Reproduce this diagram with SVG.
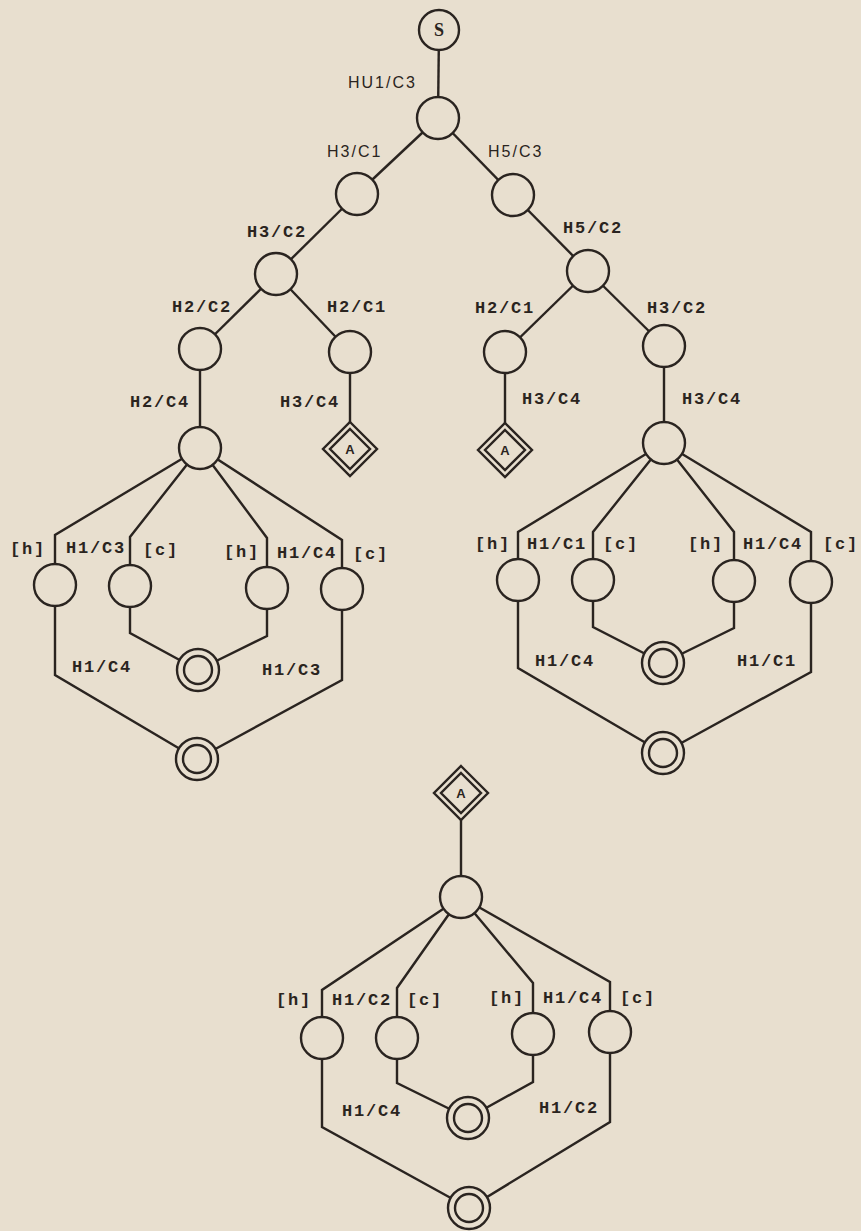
<svg xmlns="http://www.w3.org/2000/svg" width="861" height="1231" viewBox="0 0 861 1231">
<style>
.e{fill:none;stroke:#2a2420;stroke-width:2.4;stroke-linejoin:miter}
.n{fill:#e8dfcf;stroke:#2a2420;stroke-width:2.4}
.t{font-family:"Liberation Mono",monospace;font-weight:bold;font-size:17px;letter-spacing:1.8px;fill:#2a2420}
.tl{font-family:"Liberation Sans",sans-serif;font-weight:normal;font-size:16px;letter-spacing:2px;fill:#2a2420}
.c{font-family:"Liberation Serif",serif;font-weight:bold;font-size:18px;fill:#2a2420;text-anchor:middle}
.a{font-family:"Liberation Sans",sans-serif;font-weight:bold;font-size:13px;fill:#2a2420;text-anchor:middle}
</style>
<rect x="0" y="0" width="861" height="1231" fill="#e8dfcf"/>
<g id="connectors">
<path class="e" d="M439,30 L438,118"/>
<path class="e" d="M438,118 L357,194"/>
<path class="e" d="M438,118 L513,195"/>
<path class="e" d="M357,194 L276,274"/>
<path class="e" d="M513,195 L588,271"/>
<path class="e" d="M276,274 L200,349"/>
<path class="e" d="M276,274 L350,352"/>
<path class="e" d="M200,349 L200,448"/>
<path class="e" d="M350,352 L350,449"/>
<path class="e" d="M588,271 L505,352"/>
<path class="e" d="M588,271 L664,346"/>
<path class="e" d="M505,352 L505,450"/>
<path class="e" d="M664,346 L664,443"/>
<path class="e" d="M200,448 L55,535 L55,585"/>
<path class="e" d="M200,448 L130,537 L130,586"/>
<path class="e" d="M200,448 L267,538 L267,588"/>
<path class="e" d="M200,448 L342,540 L342,589"/>
<path class="e" d="M55,585 L55,675 L197,759"/>
<path class="e" d="M130,586 L130,633 L198,670"/>
<path class="e" d="M267,588 L267,636 L198,670"/>
<path class="e" d="M342,589 L342,680 L197,759"/>
<path class="e" d="M664,443 L518,532 L518,580"/>
<path class="e" d="M664,443 L593,532 L593,580"/>
<path class="e" d="M664,443 L734,532 L734,581"/>
<path class="e" d="M664,443 L811,532 L811,582"/>
<path class="e" d="M518,580 L518,668 L663,753"/>
<path class="e" d="M593,580 L593,627 L663,663"/>
<path class="e" d="M734,581 L734,628 L663,663"/>
<path class="e" d="M811,582 L811,672 L663,753"/>
<path class="e" d="M461,793 L461,897"/>
<path class="e" d="M461,897 L322,990 L322,1038"/>
<path class="e" d="M461,897 L397,988 L397,1038"/>
<path class="e" d="M461,897 L533,983 L533,1034"/>
<path class="e" d="M461,897 L610,982 L610,1032"/>
<path class="e" d="M322,1038 L322,1127 L469,1208"/>
<path class="e" d="M397,1038 L397,1083 L468,1118"/>
<path class="e" d="M533,1034 L533,1082 L468,1118"/>
<path class="e" d="M610,1032 L610,1122 L469,1208"/>
</g>
<g id="n_s"><circle class="n" cx="439" cy="30" r="20"/><text class="c" x="439" y="36">S</text></g>
<g id="n_root"><circle class="n" cx="438" cy="118" r="21"/></g>
<g id="n_l1"><circle class="n" cx="357" cy="194" r="21"/></g>
<g id="n_r1"><circle class="n" cx="513" cy="195" r="21"/></g>
<g id="n_l2"><circle class="n" cx="276" cy="274" r="21"/></g>
<g id="n_r2"><circle class="n" cx="588" cy="271" r="21"/></g>
<g id="n_l3a"><circle class="n" cx="200" cy="349" r="21"/></g>
<g id="n_l3b"><circle class="n" cx="350" cy="352" r="21"/></g>
<g id="n_r3a"><circle class="n" cx="505" cy="352" r="21"/></g>
<g id="n_r3b"><circle class="n" cx="664" cy="346" r="21"/></g>
<g id="n_la"><path class="n" d="M350,422 L377,449 L350,476 L323,449 Z"/><path class="n" d="M350,429 L370,449 L350,469 L330,449 Z"/><text class="a" x="350" y="454">A</text></g>
<g id="n_ra"><path class="n" d="M505,423 L532,450 L505,477 L478,450 Z"/><path class="n" d="M505,430 L525,450 L505,470 L485,450 Z"/><text class="a" x="505" y="455">A</text></g>
<g id="n_lf"><circle class="n" cx="200" cy="448" r="21"/></g>
<g id="n_lf1"><circle class="n" cx="55" cy="585" r="21"/></g>
<g id="n_lf2"><circle class="n" cx="130" cy="586" r="21"/></g>
<g id="n_lf3"><circle class="n" cx="267" cy="588" r="21"/></g>
<g id="n_lf4"><circle class="n" cx="342" cy="589" r="21"/></g>
<g id="n_lfi"><circle class="n" cx="198" cy="670" r="21"/><circle class="n" cx="198" cy="670" r="14"/></g>
<g id="n_lfo"><circle class="n" cx="197" cy="759" r="21"/><circle class="n" cx="197" cy="759" r="14"/></g>
<g id="n_rf"><circle class="n" cx="664" cy="443" r="21"/></g>
<g id="n_rf1"><circle class="n" cx="518" cy="580" r="21"/></g>
<g id="n_rf2"><circle class="n" cx="593" cy="580" r="21"/></g>
<g id="n_rf3"><circle class="n" cx="734" cy="581" r="21"/></g>
<g id="n_rf4"><circle class="n" cx="811" cy="582" r="21"/></g>
<g id="n_rfi"><circle class="n" cx="663" cy="663" r="21"/><circle class="n" cx="663" cy="663" r="14"/></g>
<g id="n_rfo"><circle class="n" cx="663" cy="753" r="21"/><circle class="n" cx="663" cy="753" r="14"/></g>
<g id="n_ba"><path class="n" d="M461,766 L488,793 L461,820 L434,793 Z"/><path class="n" d="M461,773 L481,793 L461,813 L441,793 Z"/><text class="a" x="461" y="798">A</text></g>
<g id="n_bf"><circle class="n" cx="461" cy="897" r="21"/></g>
<g id="n_bf1"><circle class="n" cx="322" cy="1038" r="21"/></g>
<g id="n_bf2"><circle class="n" cx="397" cy="1038" r="21"/></g>
<g id="n_bf3"><circle class="n" cx="533" cy="1034" r="21"/></g>
<g id="n_bf4"><circle class="n" cx="610" cy="1032" r="21"/></g>
<g id="n_bfi"><circle class="n" cx="468" cy="1118" r="21"/><circle class="n" cx="468" cy="1118" r="14"/></g>
<g id="n_bfo"><circle class="n" cx="469" cy="1208" r="21"/><circle class="n" cx="469" cy="1208" r="14"/></g>
<g id="labels">
<text class="tl" x="348" y="88">HU1/C3</text>
<text class="tl" x="327" y="157">H3/C1</text>
<text class="tl" x="488" y="157">H5/C3</text>
<text class="t" x="247" y="237">H3/C2</text>
<text class="t" x="563" y="233">H5/C2</text>
<text class="t" x="172" y="312">H2/C2</text>
<text class="t" x="327" y="312">H2/C1</text>
<text class="t" x="475" y="313">H2/C1</text>
<text class="t" x="647" y="313">H3/C2</text>
<text class="t" x="130" y="407">H2/C4</text>
<text class="t" x="280" y="407">H3/C4</text>
<text class="t" x="522" y="404">H3/C4</text>
<text class="t" x="682" y="404">H3/C4</text>
<text class="t" x="10" y="554">[h]</text>
<text class="t" x="66" y="553">H1/C3</text>
<text class="t" x="143" y="555">[c]</text>
<text class="t" x="224" y="557">[h]</text>
<text class="t" x="277" y="558">H1/C4</text>
<text class="t" x="353" y="559">[c]</text>
<text class="t" x="72" y="672">H1/C4</text>
<text class="t" x="262" y="675">H1/C3</text>
<text class="t" x="475" y="549">[h]</text>
<text class="t" x="527" y="549">H1/C1</text>
<text class="t" x="603" y="549">[c]</text>
<text class="t" x="688" y="549">[h]</text>
<text class="t" x="743" y="549">H1/C4</text>
<text class="t" x="823" y="549">[c]</text>
<text class="t" x="535" y="666">H1/C4</text>
<text class="t" x="737" y="666">H1/C1</text>
<text class="t" x="276" y="1005">[h]</text>
<text class="t" x="332" y="1005">H1/C2</text>
<text class="t" x="407" y="1005">[c]</text>
<text class="t" x="489" y="1003">[h]</text>
<text class="t" x="543" y="1003">H1/C4</text>
<text class="t" x="620" y="1003">[c]</text>
<text class="t" x="342" y="1116">H1/C4</text>
<text class="t" x="539" y="1113">H1/C2</text>
</g>
</svg>
